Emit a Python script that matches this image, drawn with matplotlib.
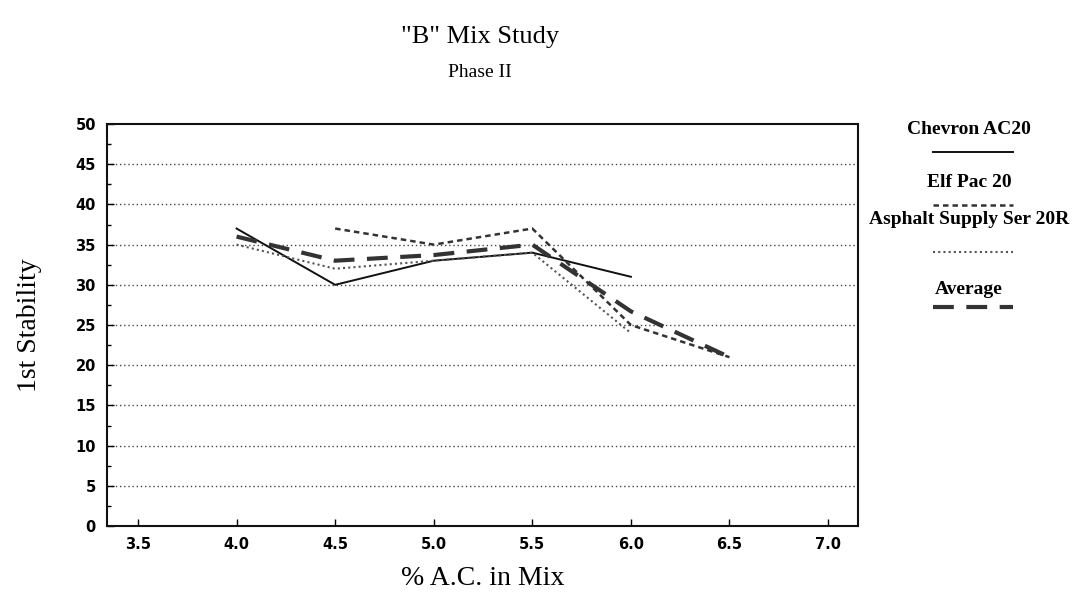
import numpy as np
import matplotlib.pyplot as plt
from matplotlib.lines import Line2D

# % A.C. in mix
ac_pct = [4.0, 4.5, 5.0, 5.5, 6.0, 6.5]

chevron = [37, 30, 33, 34, 31, np.nan]
elf_pac = [np.nan, 37, 35, 37, 25, 21]
asphalt_supply = [35, 32, 33, 34, 24, np.nan]
average = [36, 33, 33.7, 35, 26.7, 21]

series_names = ["Chevron AC20", "Elf Pac 20", "Asphalt Supply Ser 20R", "Average"]

x_ticks = [3.5, 4.0, 4.5, 5.0, 5.5, 6.0, 6.5, 7.0]
y_ticks = list(range(0, 55, 5))

styles = [
    dict(color="#111111", lw=1.4, ls="-"),
    dict(color="#333333", lw=1.8, ls=(0, (2.2, 1.6))),
    dict(color="#555555", lw=1.5, ls=(0, (1, 1.5))),
    dict(color="#333333", lw=3.0, ls=(0, (5, 3))),
]

fig = plt.figure(figsize=(10.79, 6.02), dpi=100)
ax = fig.add_axes([0.0992, 0.1262, 0.6960, 0.6678])

for vals, st in zip([chevron, elf_pac, asphalt_supply, average], styles):
    ax.plot(ac_pct, vals, **st)

ax.set_xlim(3.343, 7.152)
ax.set_ylim(0, 50)
ax.set_xticks(x_ticks)
ax.set_xticklabels(["%.1f" % v for v in x_ticks])
ax.set_yticks(y_ticks)
ax.set_yticks(np.arange(2.5, 50, 5), minor=True)
ax.tick_params(axis="both", which="major", direction="in", length=5, width=1, pad=8)
ax.tick_params(axis="y", which="minor", direction="in", length=3, width=1)
for lab in ax.get_xticklabels() + ax.get_yticklabels():
    lab.set_fontfamily("DejaVu Sans")
    lab.set_fontweight("bold")
    lab.set_fontsize(10.5)
for sp in ax.spines.values():
    sp.set_linewidth(1.5)
    sp.set_color("#111111")

for yv in y_ticks[1:-1]:
    ax.axhline(yv, color="#444444", lw=1.0, ls=(0, (1, 2)), zorder=0)

ax.set_xlabel("% A.C. in Mix", fontfamily="Liberation Serif", fontsize=20, labelpad=10)
ax.set_ylabel("1st Stability", fontfamily="Liberation Serif", fontsize=20, labelpad=24)

fig.text(0.445, 0.938, '"B" Mix Study', ha="center", va="center",
         fontfamily="Liberation Serif", fontsize=19)
fig.text(0.445, 0.879, "Phase II", ha="center", va="center",
         fontfamily="Liberation Serif", fontsize=14)

# legend on the right: name above, line sample below (pixel rows from the top)
text_rows = [130, 183, 219, 289]
line_rows = [152, 205, 252, 307]
for name, st, tr, lr in zip(series_names, styles, text_rows, line_rows):
    fig.text(0.898, 1 - tr / 602, name, ha="center", va="center",
             fontfamily="Liberation Serif", fontweight="bold", fontsize=14)
    fig.add_artist(Line2D([0.865, 0.939], [1 - lr / 602] * 2,
                          transform=fig.transFigure, **st))

fig.savefig("out.png", dpi=100)
